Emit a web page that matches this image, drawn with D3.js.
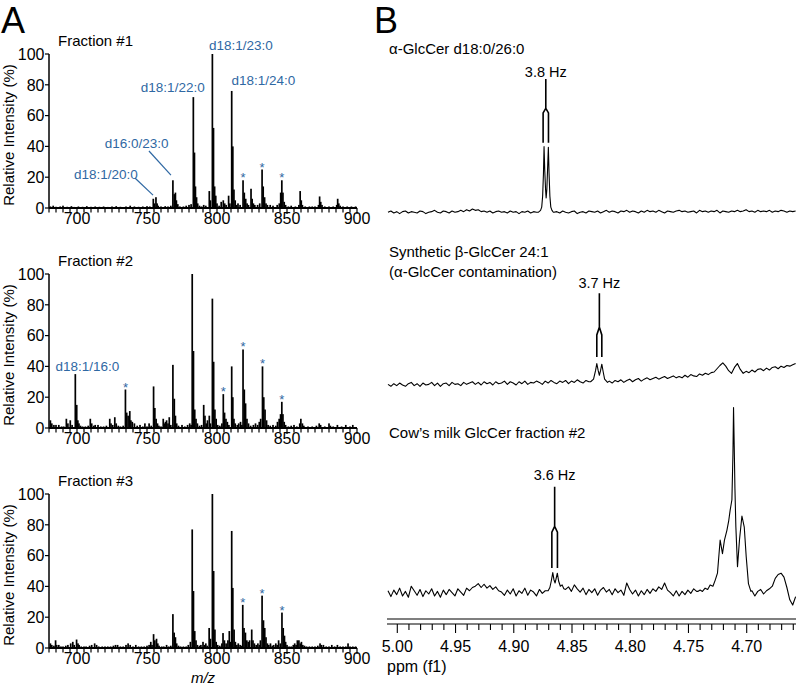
<!DOCTYPE html>
<html><head><meta charset="utf-8">
<script src="https://cdn.jsdelivr.net/npm/d3@7/dist/d3.min.js"></script>
<style>
body{margin:0;background:#fff}
svg{display:block;font-family:"Liberation Sans",Arial,Helvetica,sans-serif}
</style></head><body>
<svg id="c" width="796" height="692"></svg>
<script>
// ---------------- DATA: Panel A (mass spectra) ----------------
const mzLabelTicks = [700, 750, 800, 850, 900];
const intensityTicks = [0, 20, 40, 60, 80, 100];
const fractionNames = ["Fraction #1", "Fraction #2", "Fraction #3"];

const fraction1 = [[681,1],[683,1.5],[685,0.8],[688,1],[690,1.5],[693,0.8],[696,1.2],[698,0.7],[701,1],[704,0.8],[707,1.2],[710,0.8],[713,1],[716,0.8],[719,1],[722,0.7],[725,1],[728,1.2],[731,0.8],[735,1],[738,1.5],[741,1],[744,0.8],[747,1],[750,1.2],[752,1],
[754.5,6],[755.2,3],[756.4,7],[757.2,3],[758,1.5],[760,1],[763,1.2],[765,1],[767,1.5],
[768.5,18],[769.5,9],[770.3,10],[771,5],[772,2.5],[773.5,1],[776,1],[778,1.5],[780,2],[781.5,2.5],
[783.1,72],[783.9,36],[784.6,14],[785.4,7],[786.2,3],[787.5,1.5],[789,1],[790.5,2],[792,1.5],
[794.5,11],[795.3,5],[796.7,100],[797.5,52],[798.3,14],[799.1,8],[800,3],[801.5,1.5],
[803,4],[804.5,5],[805.5,3],[806.5,2],[808.3,8],[809.2,3],
[810.5,76],[811.3,40],[812.1,12],[813,5],[814,2],[815,3],[816.5,2],
[818.6,18],[819.5,10],[820.5,6],[821.5,3],[822.5,2],[824.3,12.5],[825.1,6],[826,3],[827,2],
[829,2],[830.5,3],[832.2,25],[833,14],[834,7],[835,3],[836,2],[838,2],[840,1.5],
[843,2],[844.5,3],[845.5,10],[846.3,18],[847.1,10],[848,4],[849,2],[851,1],[853,1.5],[856,1],
[858.5,2],[859.4,11],[860.2,5],[861,2],[863,1],[866,1],[868,1],[870,1],
[872.5,2],[873.3,7.5],[874.1,4],[875,2],[877,1],[880,1],[883,1],[885.5,2],[886.2,6],[887,3],[888,1.5],[890,1],[893,1],[896,1],[899,1]];

const fraction2 = [[681,5],[682,3],[683.5,2],[685,2],[687,2],[689,1],[690.5,1],
[692.4,6],[693.5,3],[695.2,5],[696.5,2],[698.8,35],[699.8,15],[700.6,5],[701.4,3],[702.5,1.5],[704,1],[706,1],[708,1.5],
[709.5,6],[710.5,3],[712,1.5],[713,2],[715,2],[717,1],[719,1],[721,1.5],[723.4,6],[724.3,3],[725.5,2],[727,7],[728,3],[729.5,1.5],[731,1],[733,1.5],
[734.6,25],[735.5,10],[736.5,8],[737.7,11],[738.5,5],[739.5,4],[741,3],[743,1.5],[745,2],[747,1],[748.5,3],[750,1],[751.5,3],[753,1.5],
[754.7,27],[755.6,13],[756.5,6],[757.5,3],[758.5,1.5],[760,1],[761.6,6],[762.5,3],[763.2,4],[764,5],[765,3],[765.9,7],[767,2],
[768.5,41],[769.5,19],[770.3,8],[771.2,3],[772.5,1.5],[775,2],[777,1],[779,2],[780.5,3],[781.5,2],
[782.3,100],[783.2,50],[784.1,12],[785,6],[786,3],[787.5,1.5],[789,2],[790.5,15],[791.4,8],[792.3,3],[793.2,5],[794.5,8],[795.3,3],
[796.7,84],[797.6,43],[798.5,12],[799.4,6],[800.5,2],[802,1.5],[803.5,3],
[804.5,22],[805.4,10],[806.4,6],[807.4,4],[808.5,2],[810.5,40],[811.3,20],[812.1,6],[813,3],[814.5,2],[815.5,3],[816.8,4],[817.8,2],
[818.6,51],[819.5,25],[820.4,16],[821.4,6],[822.5,3],[824,1.5],[826,2],[827.5,3],[829,2],[830.2,4],[831.2,6],
[832.5,40],[833.4,20],[834.3,12],[835.4,5],[836.5,2],[838,1.5],[840,2],[842,1.5],[843.2,4],[844.4,6],[845.4,9],
[846.3,17],[847.1,9],[848,4],[849,2],[851,1],[853,1.5],[855,2],[857,1],[859.1,3],[859.9,6],[861,3],[862,1.5],[865,1],[868,1],[871,1.5],[873,3],[874,2],[877,1],[880,3],[881,1.5],[883,1],[886,2],[889,1],[892,2],[895,1],[897,2]];

const fraction3 = [[681,3],[682,2],[683.5,1.5],[684.7,5],[685.5,2],[687,2],[688.5,1],[690,1],[692,1.5],[693.5,2],[695.5,3],[697,4],[698,2],[699.7,5.5],[700.7,3],[701.5,2],[703,1],[705,1],[706.5,1],[709,1.5],[710.5,2],[712.6,3],[714,2],[715.5,1],[718,1],[720,1],[722,1],[724,1],[726,1.5],[727.5,2],[729,2],[731,1],[733,1],[735,2],[736.5,3],[738,2],[740,1],[742,2],[744,1],[746,1],[748,1],[750,1.5],
[751.5,2],[752.7,4],[753.6,2],[754.7,9],[755.6,5],[756.8,6],[757.7,3],[758.6,1.5],[760.5,1],[762,1],[764,2],[765.5,1],[767,1.5],
[768.5,22],[769.4,10],[770.3,7],[771.2,3],[772.5,1.5],[774,1],[776,1],[778,1],[779.5,2],[781,4],
[782.3,77],[783.2,37],[784.1,11],[785,5],[786,2],[787.5,1.5],[788.5,2],[790,4],[791,2],[792,3],[793,1.5],[794.4,13],[795.3,6],
[796.7,100],[797.6,50],[798.5,12],[799.4,4],[800.5,2],[802,1.5],[803.5,3],[804.3,9.7],[805.3,5],[806.5,3],[807.8,5],[808.8,11],[809.7,4],
[810.5,76],[811.3,39],[812.2,12],[813.1,4],[814.2,2],[815.2,3],[816.5,2],[817.5,1.5],
[818.4,28],[819.3,13],[820.3,10],[821.3,5],[822.3,4],[823.3,5],[824.8,12],[825.7,5],[826.7,3],[828,2],[829.2,3],[830.3,2],[831,5],
[832.2,34],[833.2,18],[834.1,13],[835,7],[836,3],[837,2],[838.2,3],[839.5,1.5],[840.5,2],[842,3],[843,2],[844,5],[845.2,3],
[846.4,23],[847.3,13],[848.2,8],[849,4],[850,2],[851.5,1],[853,1],[854.5,2],[855.5,3],[856.5,2],[857.4,5],[858.5,5],[859.5,3],[860.3,4],[861.3,2],[862.5,1.5],[864,1],[866,1],[868,1],[870,1],[872,1.5],[873.6,3],[874.5,2],[876,2],[878,1],[880,1],[882,2],[884,1],[886,2],[888,1],[890,1],[892,1],[893.6,3],[895,1],[897,1],[899,1]];

// starred peaks (m/z) per fraction
const stars1 = [818.6, 832.2, 846.3];
const stars2 = [734.6, 804.5, 818.6, 832.5, 846.3];
const stars3 = [818.4, 832.2, 846.4];

// species labels: [text, m/z of label centre, intensity of baseline]
const labels1 = [["d18:1/23:0",817.1,102.6],["d18:1/22:0",768.4,75.5],["d18:1/24:0",833.1,79.9],["d16:0/23:0",742.6,39.2],["d18:1/20:0",720.7,18.6]];
const labels2 = [["d18:1/16:0",707.4,37.2]];
const labels3 = [];
// leader lines: [mz1, int1, mz2, int2]
const leaders1 = [[751.4,37.0,767.1,21.4],[741.4,19.5,754.3,8.4]];

// ---------------- DATA: Panel B (1H NMR) ----------------
const ppmLabelTicks = [5.00, 4.95, 4.90, 4.85, 4.80, 4.75, 4.70];
const nmrGridStart = 5.008, nmrGridStep = 0.0025;

const nmr1Grid = [0,2,-1,1,-2,1,2,-1,1,0, -1,2,1,-2,0,1,3,0,-1,2, 1,-1,2,0,1,3,1,4,2,5, 3,4,1,2,0,2,-1,1,2,0,
 1,-1,2,0,1,-2,1,0,2,-1, 1,0,0,0,0,0,0,0,1,-1, 2,0,-1,1,2,-2,0,1,-1,2, 1,0,2,-1,1,3,0,2,1,-1,
 2,1,3,0,2,1,-1,2,0,3, 1,2,0,3,1,-1,2,1,0,2, 3,1,2,0,1,2,-1,3,1,2, 0,2,1,3,-1,2,1,0,2,1,
 3,1,2,4,1,2,0,3,1,2, 1,3,0,2,1,3,2,0,2,1, 2];
const nmr1Doublet = [[4.8790,0],[4.8770,3],[4.8760,8],[4.8752,25],[4.8745,60],[4.8740,101],[4.8734,65],[4.8727,35],[4.8722,22],[4.8716,35],[4.8710,65],[4.8703,100],[4.8697,60],[4.8690,25],[4.8682,8],[4.8672,3],[4.8660,0]];

const nmr2Grid = [1,-2,2,-1,3,0,-2,2,4,-1, 2,-2,3,0,1,4,-1,3,-2,2, 3,-1,4,1,2,-1,4,1,3,5, 1,4,0,5,2,4,0,5,2,3,
 6,1,5,3,0,5,2,6,1,4, 3,6,4,1,6,3,7,4,2,6, 4,7,2,6,4,8,5,3,7,5, 0,0,0,0,0,0,6,3,7,5,
 8,4,7,9,5,8,10,6,9,11, 8,10,12,9,11,13,10,12,14,11, 13,11,15,12,16,14,13,17,15,18, 16,19,20,25,30,34,29,22,18,27,
 33,24,18,21,19,23,20,24,25,22, 26,23,27,28,25,29,27,30,29,31, 33];
const nmr2Doublet = [[4.8340,5],[4.8315,9],[4.8298,22],[4.8287,33],[4.8275,22],[4.8265,15],[4.8255,22],[4.8244,32],[4.8232,20],[4.8220,9],[4.8195,4]];

const nmr3Grid = [3,-6,4,-3,7,-5,2,-7,10,3, -4,5,-6,3,-2,6,-5,2,-7,4, -3,5,0,-5,6,1,-4,7,3,8, 10,14,8,13,7,11,5,9,3,1,
 -4,4,-2,6,-5,3,-1,7,-4,4, 1,-5,5,-1,3,0,0,0,0,0, 0,5,9,2,12,6,1,7,-3,5, 0,6,-4,4,8,1,5,-3,6,0,
 4,-4,15,5,-2,4,-5,3,-3,5, -1,6,2,9,5,15,4,0,-5,3, -5,2,-3,4,-1,6,2,0,0,0, 0,0,0,0,0,0,0,0,0,0,
 0,0,0,0,0,3,-5,2,5,-2, 3,6,10,22,28,30,24,8,-11,-19, -6];
const nmr3Doublet = [[4.8705,3],[4.8690,8],[4.8678,18],[4.8665,31],[4.8655,20],[4.8645,15],[4.8636,22],[4.8626,30],[4.8615,18],[4.8600,10],[4.8585,12],[4.8570,6]];
const nmr3Anomeric = [[4.7420,2],[4.7400,4],[4.7380,2],[4.7357,7],[4.7335,5],[4.7314,12],[4.7290,10],[4.7271,19],[4.7251,30],[4.7228,81],[4.7208,60],[4.7191,81],[4.7170,96],[4.7155,110],[4.7142,127],[4.7127,143],[4.7118,215],[4.7113,285],[4.7107,225],[4.7101,160],[4.7093,101],[4.7079,40],[4.7062,81],[4.7041,118],[4.7021,101],[4.7004,55],[4.6985,14],[4.6964,2]];

const nmrTitles = [["α-GlcCer d18:0/26:0"], ["Synthetic β-GlcCer 24:1", "(α-GlcCer contamination)"], ["Cow\u2019s milk GlcCer fraction #2"]];
// coupling markers: [left ppm, right ppm, centre ppm, bottom, split, tip, top, label intensity, label]
const nmrMarkers = [[4.8748,4.8702,4.8725,107,153,160,205,208,"3.8 Hz"],
                    [4.8287,4.8244,4.8265,43,77,89,141,149,"3.7 Hz"],
                    [4.8673,4.8625,4.8649,38,93,102,163,173,"3.6 Hz"]];

// ---------------- DRAWING ----------------
const svg = d3.select("#c");
const blue = "#2f68a3";

svg.append("text").attr("x", 1).attr("y", 33).attr("font-size", 36).text("A");
svg.append("text").attr("x", 374).attr("y", 33).attr("font-size", 36).text("B");

const msX = d3.scaleLinear().domain([680, 900]).range([49, 357]);
const panels = [
  {data: fraction1, stars: stars1, labels: labels1, leaders: leaders1, top: 54, bottom: 208},
  {data: fraction2, stars: stars2, labels: labels2, leaders: [], top: 274, bottom: 428},
  {data: fraction3, stars: stars3, labels: labels3, leaders: [], top: 494, bottom: 648}
];

panels.forEach((p, k) => {
  const y = d3.scaleLinear().domain([0, 100]).range([p.bottom, p.top]);
  const g = svg.append("g");
  // sticks
  g.selectAll("rect.pk").data(p.data).join("rect").attr("class","pk")
    .attr("x", d => msX(d[0]) - 0.85).attr("width", 1.7)
    .attr("y", d => y(d[1])).attr("height", d => p.bottom - y(d[1]))
    .attr("fill", "#000");
  // x axis line
  g.append("line").attr("x1", msX(680)).attr("x2", msX(900)).attr("y1", p.bottom).attr("y2", p.bottom)
    .attr("stroke", "#000").attr("stroke-width", 2);
  // minor ticks
  g.selectAll("line.mt").data(d3.range(680, 901, 5)).join("line").attr("class","mt")
    .attr("x1", d => msX(d)).attr("x2", d => msX(d))
    .attr("y1", p.bottom).attr("y2", d => p.bottom + (d % 50 === 0 ? 6 : 4.5))
    .attr("stroke", "#000").attr("stroke-width", 1.2);
  g.selectAll("text.xl").data(mzLabelTicks).join("text").attr("class","xl")
    .attr("x", d => msX(d)).attr("y", p.bottom + 16).attr("text-anchor", "middle")
    .attr("font-size", 16).text(d => d);
  // y axis
  g.append("line").attr("x1", msX(680)).attr("x2", msX(680)).attr("y1", p.bottom).attr("y2", p.top)
    .attr("stroke", "#000").attr("stroke-width", 1.5);
  g.selectAll("line.yt").data(intensityTicks).join("line").attr("class","yt")
    .attr("x1", msX(680) - 4).attr("x2", msX(680)).attr("y1", d => y(d)).attr("y2", d => y(d))
    .attr("stroke", "#000").attr("stroke-width", 1.2);
  g.selectAll("text.yl").data(intensityTicks).join("text").attr("class","yl")
    .attr("x", msX(680) - 4.5).attr("y", d => y(d) + 5.8).attr("text-anchor", "end")
    .attr("font-size", 16).text(d => d);
  g.append("text").attr("transform", `translate(14,${(p.top + p.bottom) / 2 + 4}) rotate(-90)`)
    .attr("text-anchor", "middle").attr("font-size", 15).text("Relative Intensity (%)");
  g.append("text").attr("x", 58).attr("y", p.top - 8.5).attr("font-size", 15).text(fractionNames[k]);
  // stars
  g.selectAll("text.st").data(p.stars).join("text").attr("class","st")
    .attr("x", d => msX(d)).attr("text-anchor", "middle")
    .attr("y", d => { const pk = p.data.find(e => Math.abs(e[0] - d) < 0.05); return y(pk[1]) + 2; })
    .attr("font-size", 13).attr("fill", blue).text("*");
  // labels
  g.selectAll("text.lb").data(p.labels).join("text").attr("class","lb")
    .attr("x", d => msX(d[1])).attr("y", d => y(d[2])).attr("text-anchor", "middle")
    .attr("font-size", 13.5).attr("fill", blue).text(d => d[0]);
  g.selectAll("line.ld").data(p.leaders).join("line").attr("class","ld")
    .attr("x1", d => msX(d[0])).attr("y1", d => y(d[1])).attr("x2", d => msX(d[2])).attr("y2", d => y(d[3]))
    .attr("stroke", blue).attr("stroke-width", 1.2);
});
svg.append("text").attr("x", msX(790)).attr("y", 683).attr("text-anchor", "middle")
  .attr("font-size", 15).attr("font-style", "italic").text("m/z");

// ---- Panel B ----
const ppmX = d3.scaleLinear().domain([5.00, 4.70]).range([397.3, 746.7]);
function buildSpectrum(grid, overrides) {
  let pts = grid.map((v, i) => [nmrGridStart - i * nmrGridStep, v]);
  overrides.forEach(ov => {
    const hi = d3.max(ov, d => d[0]) + 1e-9, lo = d3.min(ov, d => d[0]) - 1e-9;
    pts = pts.filter(q => q[0] > hi || q[0] < lo).concat(ov);
  });
  return pts.sort((a, b) => b[0] - a[0]);
}
const spectra = [
  {pts: buildSpectrum(nmr1Grid, [nmr1Doublet]), base: 212.3, titleY: [54]},
  {pts: buildSpectrum(nmr2Grid, [nmr2Doublet]), base: 385, titleY: [257, 277]},
  {pts: buildSpectrum(nmr3Grid, [nmr3Doublet, nmr3Anomeric]), base: 592.7, titleY: [438]}
];
spectra.forEach((s, k) => {
  const y = d3.scaleLinear().domain([0, 100]).range([s.base, s.base - 65]);
  const line = d3.line().x(d => ppmX(d[0])).y(d => y(d[1]));
  svg.append("path").attr("d", line(s.pts)).attr("fill", "none").attr("stroke", "#000")
    .attr("stroke-width", 1.1).attr("stroke-linejoin", "round");
  nmrTitles[k].forEach((t, j) => {
    svg.append("text").attr("x", 389).attr("y", s.titleY[j]).attr("font-size", 15).text(t);
  });
  const m = nmrMarkers[k];
  const mk = svg.append("g").attr("fill", "none").attr("stroke", "#000").attr("stroke-width", 1.6);
  mk.append("path").attr("d",
    `M${ppmX(m[0])},${y(m[3])}V${y(m[4])}L${ppmX(m[2])},${y(m[5])}L${ppmX(m[1])},${y(m[4])}V${y(m[3])}` +
    `M${ppmX(m[2])},${y(m[5])}V${y(m[6])}`);
  svg.append("text").attr("x", ppmX(m[2])).attr("y", y(m[7])).attr("text-anchor", "middle")
    .attr("font-size", 14.5).text(m[8]);
});
// axis
[619, 624].forEach(yy => svg.append("line").attr("x1", 387).attr("x2", 796).attr("y1", yy).attr("y2", yy)
  .attr("stroke", "#000").attr("stroke-width", 1.2));
const minorPpm = d3.range(0, 35).map(i => +(5.00 - i * 0.01).toFixed(2));
svg.selectAll("line.pt").data(minorPpm).join("line").attr("class","pt")
  .attr("x1", d => ppmX(d)).attr("x2", d => ppmX(d)).attr("y1", 624)
  .attr("y2", d => 624 + (Math.round(d * 100) % 5 === 0 ? 9 : 6))
  .attr("stroke", "#000").attr("stroke-width", 1.1);
svg.selectAll("text.pl").data(ppmLabelTicks).join("text").attr("class","pl")
  .attr("x", d => ppmX(d)).attr("y", 652).attr("text-anchor", "middle").attr("font-size", 16)
  .text(d => d.toFixed(2));
svg.append("text").attr("x", 387).attr("y", 672).attr("font-size", 16).text("ppm (f1)");
</script>
</body></html>
